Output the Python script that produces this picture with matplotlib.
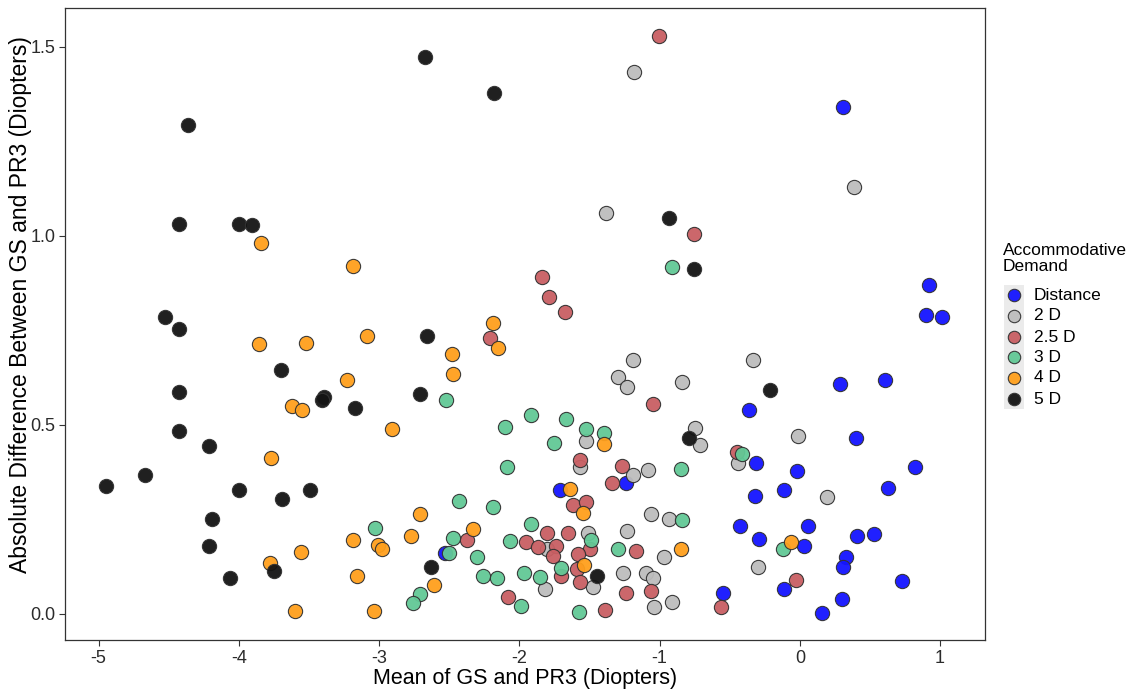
import numpy as np
import matplotlib.pyplot as plt

plt.rcParams['font.family'] = ['Liberation Sans', 'DejaVu Sans']

groups = ["Distance", "2 D", "2.5 D", "3 D", "4 D", "5 D"]
colors = ["#1414ff", "#bdbdbd", "#c95f63", "#62c996", "#ff9f1c", "#141414"]

dist_x = [0.31, 0.92, 0.90, 1.01, 0.285, 0.61, -0.36, 0.40, 0.82, -0.31, -0.02, -0.11, -0.32, 0.63,
          -0.43, 0.06, -0.29, 0.03, 0.41, 0.53, 0.33, 0.31, 0.73, -0.55, -0.11, 0.30, 0.16,
          -1.71, -1.24, -2.53]
dist_y = [1.34, 0.87, 0.79, 0.785, 0.608, 0.62, 0.54, 0.465, 0.39, 0.40, 0.378, 0.328, 0.313, 0.333,
          0.233, 0.233, 0.198, 0.18, 0.206, 0.212, 0.151, 0.124, 0.087, 0.056, 0.066, 0.040, 0.003,
          0.328, 0.347, 0.161]

d2_x = [-1.18, -1.38, 0.385, -1.19, -1.30, -1.23, -0.84, -1.525, -1.57, -1.19, -1.08, -1.06, -0.93,
        -1.23, -1.51, -1.80, -0.97, -1.26, -1.10, -1.05, -1.475, -1.82, -1.04, -0.91,
        -0.335, -0.75, -0.71, -0.015, -0.44, 0.195, -0.30]
d2_y = [1.434, 1.061, 1.13, 0.672, 0.627, 0.60, 0.614, 0.458, 0.39, 0.368, 0.381, 0.265, 0.251,
        0.22, 0.214, 0.172, 0.151, 0.108, 0.108, 0.095, 0.071, 0.066, 0.018, 0.032,
        0.672, 0.492, 0.447, 0.471, 0.399, 0.31, 0.124]

d25_x = [-1.005, -1.84, -1.79, -1.675, -0.755, -2.21, -1.05, -1.57, -1.27, -1.34, -1.62, -1.525,
         -1.80, -1.65, -2.37, -1.95, -1.87, -1.74, -1.76, -1.50, -1.58, -1.17, -1.59, -1.70,
         -1.57, -1.24, -1.06, -2.08, -1.39, -0.45, -0.03, -0.56]
d25_y = [1.53, 0.892, 0.839, 0.80, 1.005, 0.73, 0.555, 0.407, 0.392, 0.347, 0.288, 0.296,
         0.214, 0.214, 0.196, 0.19, 0.177, 0.18, 0.153, 0.172, 0.159, 0.167, 0.119, 0.10,
         0.085, 0.056, 0.061, 0.045, 0.01, 0.428, 0.09, 0.019]

d3_x = [-0.91, -2.52, -1.92, -1.67, -2.10, -1.525, -1.40, -1.75, -2.09, -0.85, -2.43, -2.19,
        -0.84, -3.03, -1.92, -1.49, -2.47, -2.07, -1.30, -2.50, -2.30, -1.70, -2.26, -2.16,
        -1.97, -1.85, -2.71, -2.76, -1.99, -1.575, -0.41, -0.12]
d3_y = [0.918, 0.566, 0.527, 0.516, 0.495, 0.489, 0.479, 0.452, 0.389, 0.384, 0.30, 0.283,
        0.249, 0.228, 0.238, 0.196, 0.20, 0.193, 0.172, 0.161, 0.151, 0.122, 0.10, 0.095,
        0.108, 0.098, 0.053, 0.029, 0.021, 0.005, 0.423, 0.172]

d4_x = [-3.84, -3.19, -2.19, -3.86, -3.52, -3.09, -3.23, -3.62, -3.55, -3.77, -3.19, -3.56,
        -3.78, -3.16, -3.60, -3.04, -2.15, -2.48, -2.47, -2.91, -1.40, -1.64, -1.55, -2.71,
        -2.77, -2.33, -3.01, -2.98, -1.54, -0.85, -2.61, -0.06]
d4_y = [0.981, 0.921, 0.77, 0.714, 0.717, 0.735, 0.619, 0.55, 0.54, 0.413, 0.196, 0.164,
        0.135, 0.10, 0.008, 0.008, 0.704, 0.688, 0.635, 0.489, 0.45, 0.331, 0.267, 0.264,
        0.206, 0.225, 0.183, 0.172, 0.13, 0.172, 0.077, 0.19]

d5_x = [-4.36, -4.43, -4.00, -3.91, -4.53, -4.43, -3.70, -4.43, -3.39, -3.41, -3.17, -4.43,
        -4.21, -4.67, -4.95, -4.00, -3.49, -3.69, -4.19, -4.21, -3.75, -4.06,
        -2.67, -2.18, -0.93, -0.755, -2.66, -2.71, -0.79, -2.63, -1.45, -0.21]
d5_y = [1.294, 1.032, 1.032, 1.029, 0.786, 0.754, 0.646, 0.587, 0.574, 0.566, 0.545, 0.484,
        0.444, 0.368, 0.339, 0.328, 0.328, 0.304, 0.251, 0.18, 0.114, 0.095,
        1.473, 1.378, 1.047, 0.913, 0.735, 0.582, 0.466, 0.124, 0.10, 0.593]

xs = [dist_x, d2_x, d25_x, d3_x, d4_x, d5_x]
ys = [dist_y, d2_y, d25_y, d3_y, d4_y, d5_y]

W, H = 1136, 690
fig = plt.figure(figsize=(W / 100, H / 100), dpi=100)
ax = fig.add_axes([65 / W, 1 - 640 / H, 920 / W, 632 / H])

for x, y, c in zip(xs, ys, colors):
    ax.scatter(x, y, s=105, c=c, edgecolors="#333333", linewidths=0.8, alpha=0.95, zorder=3)

ax.set_xlim(-5.24, 1.32)
ax.set_ylim(-0.069, 1.603)
ax.set_xticks([-5, -4, -3, -2, -1, 0, 1])
ax.set_xticklabels(["-5", "-4", "-3", "-2", "-1", "0", "1"])
ax.set_yticks([0.0, 0.5, 1.0, 1.5])
ax.set_yticklabels(["0.0", "0.5", "1.0", "1.5"])
ax.tick_params(labelsize=13, length=4, color="#333333", labelcolor="#2b2b2b", pad=3)
for sp in ax.spines.values():
    sp.set_color("#333333")
    sp.set_linewidth(0.9)
ax.set_xlabel("Mean of GS and PR3 (Diopters)", fontsize=15.5, labelpad=1)
ax.set_ylabel("Absolute Difference Between GS and PR3 (Diopters)", fontsize=16.5, va="center")
ax.yaxis.set_label_coords(-0.048, 0.53)

# legend drawn by hand, ggplot style with grey key background
fig.text(1003 / W, 1 - 243 / H, "Accommodative\nDemand", fontsize=12.5, va="top", ha="left",
         linespacing=1.1)
kax = fig.add_axes([1004 / W, 1 - 409 / H, 20 / W, 124 / H])
kax.set_facecolor("#ebebeb")
kax.set_xlim(0, 1)
kax.set_ylim(409, 285)
key_y = [295, 316, 337, 357, 378, 399]
for ky, c, g in zip(key_y, colors, groups):
    kax.scatter([0.5], [ky], s=80, c=c, edgecolors="#333333", linewidths=0.8, alpha=0.95)
    fig.text(1034 / W, 1 - ky / H, g, fontsize=12.5, va="center", ha="left")
kax.set_xticks([])
kax.set_yticks([])
for sp in kax.spines.values():
    sp.set_visible(False)

fig.savefig("out.png", dpi=100)
